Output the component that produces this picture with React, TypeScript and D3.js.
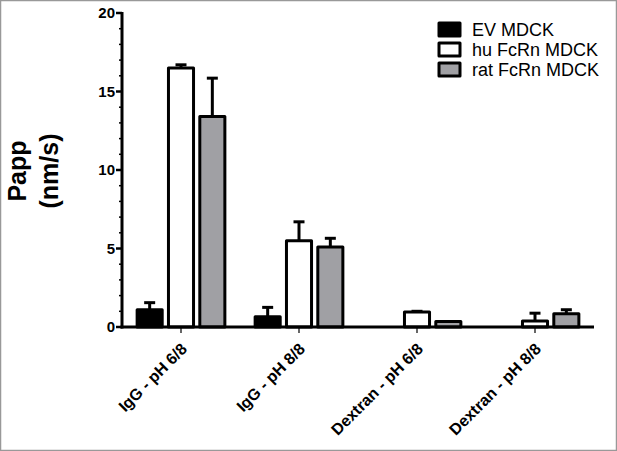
import React from "react";
import * as d3 from "d3";

const categories = ["IgG - pH 6/8", "IgG - pH 8/8", "Dextran - pH 6/8", "Dextran - pH 8/8"];
const seriesNames = ["EV MDCK", "hu FcRn MDCK", "rat FcRn MDCK"];
const seriesFill = ["#000000", "#ffffff", "#a0a0a4"];
// mean values per series, one per category
const evValues = [1.1, 0.65, 0, 0];
const huValues = [16.5, 5.5, 0.95, 0.38];
const ratValues = [13.4, 5.1, 0.35, 0.85];
// upper error (SD)
const evErrors = [0.45, 0.6, 0, 0];
const huErrors = [0.2, 1.2, 0.05, 0.5];
const ratErrors = [2.45, 0.55, 0, 0.25];
const yTicks = [0, 5, 10, 15, 20];

const W = 617;
const H = 451;

const App = () => {
  const values = [evValues, huValues, ratValues];
  const errors = [evErrors, huErrors, ratErrors];

  const x0 = d3.scaleBand<string>().domain(categories).range([122, 594]);
  const x1 = d3.scaleBand<string>().domain(seriesNames).range([-47, 47]).paddingInner(0.2).paddingOuter(0.1);
  const y = d3.scaleLinear().domain([0, 20]).range([327, 13]);
  const minorTicks = d3.range(0, 21, 1).filter((d) => d % 5 !== 0);
  const font = "Arial, 'Liberation Sans', sans-serif";

  return (
    <svg width={W} height={H} style={{ position: "absolute", left: 0, top: 0, background: "#fff" }}>
      <rect x={0.5} y={0.5} width={W - 1} height={H - 1} fill="#fff" stroke="#999" strokeWidth={1.5} />

      {/* bars */}
      {categories.map((c, ci) => (
        <g key={c} transform={`translate(${x0(c)! + x0.bandwidth() / 2},0)`}>
          {seriesNames.map((s, si) => {
            const v = values[si][ci];
            if (v <= 0) return null;
            const bx = x1(s)!;
            const cx = bx + x1.bandwidth() / 2;
            const e = errors[si][ci];
            return (
              <g key={s}>
                {e > 0 && (
                  <g stroke="#000" strokeWidth={3}>
                    <line x1={cx} x2={cx} y1={y(v)} y2={y(v + e)} />
                    <line x1={cx - 5.5} x2={cx + 5.5} y1={y(v + e)} y2={y(v + e)} />
                  </g>
                )}
                <rect
                  x={bx}
                  y={y(v)}
                  width={x1.bandwidth()}
                  height={y(0) - y(v)}
                  fill={seriesFill[si]}
                  stroke="#000"
                  strokeWidth={3}
                  strokeLinejoin="round"
                />
              </g>
            );
          })}
        </g>
      ))}

      {/* y axis */}
      <line x1={122} x2={122} y1={y(20) - 1} y2={y(0) + 1.5} stroke="#000" strokeWidth={3} />
      {yTicks.map((t) => (
        <g key={t}>
          <line x1={116} x2={122} y1={y(t)} y2={y(t)} stroke="#000" strokeWidth={2.5} />
          <text x={115} y={y(t)} dy="0.36em" textAnchor="end" fontFamily={font} fontWeight="bold" fontSize={15}>
            {t}
          </text>
        </g>
      ))}
      {minorTicks.map((t) => (
        <line key={t} x1={119} x2={122} y1={y(t)} y2={y(t)} stroke="#000" strokeWidth={1.5} />
      ))}

      {/* x axis */}
      <line x1={120.5} x2={594} y1={y(0)} y2={y(0)} stroke="#000" strokeWidth={3} />
      {categories.map((c) => {
        const cx = x0(c)! + x0.bandwidth() / 2;
        return (
          <g key={c}>
            <line x1={cx} x2={cx} y1={y(0)} y2={y(0) + 6} stroke="#000" strokeWidth={1.2} />
            <text
              transform={`translate(${cx + 7},${y(0) + 23}) rotate(-45)`}
              textAnchor="end"
              fontFamily={font}
              fontWeight="bold"
              fontSize={16}
            >
              {c}
            </text>
          </g>
        );
      })}

      {/* y label */}
      <g transform="translate(0,171) rotate(-90)" fontFamily={font} fontWeight="bold" fontSize={25} textAnchor="middle">
        <text x={0} y={26}>Papp</text>
        <text x={0} y={58}>(nm/s)</text>
      </g>

      {/* legend */}
      {seriesNames.map((s, i) => (
        <g key={s} transform={`translate(439,${23 + i * 20})`}>
          <rect x={0} y={0} width={21} height={13} fill={seriesFill[i]} stroke="#000" strokeWidth={3} strokeLinejoin="round" />
          <text x={33} y={13} fontFamily={font} fontSize={18}>
            {s}
          </text>
        </g>
      ))}
    </svg>
  );
};

export default App;
